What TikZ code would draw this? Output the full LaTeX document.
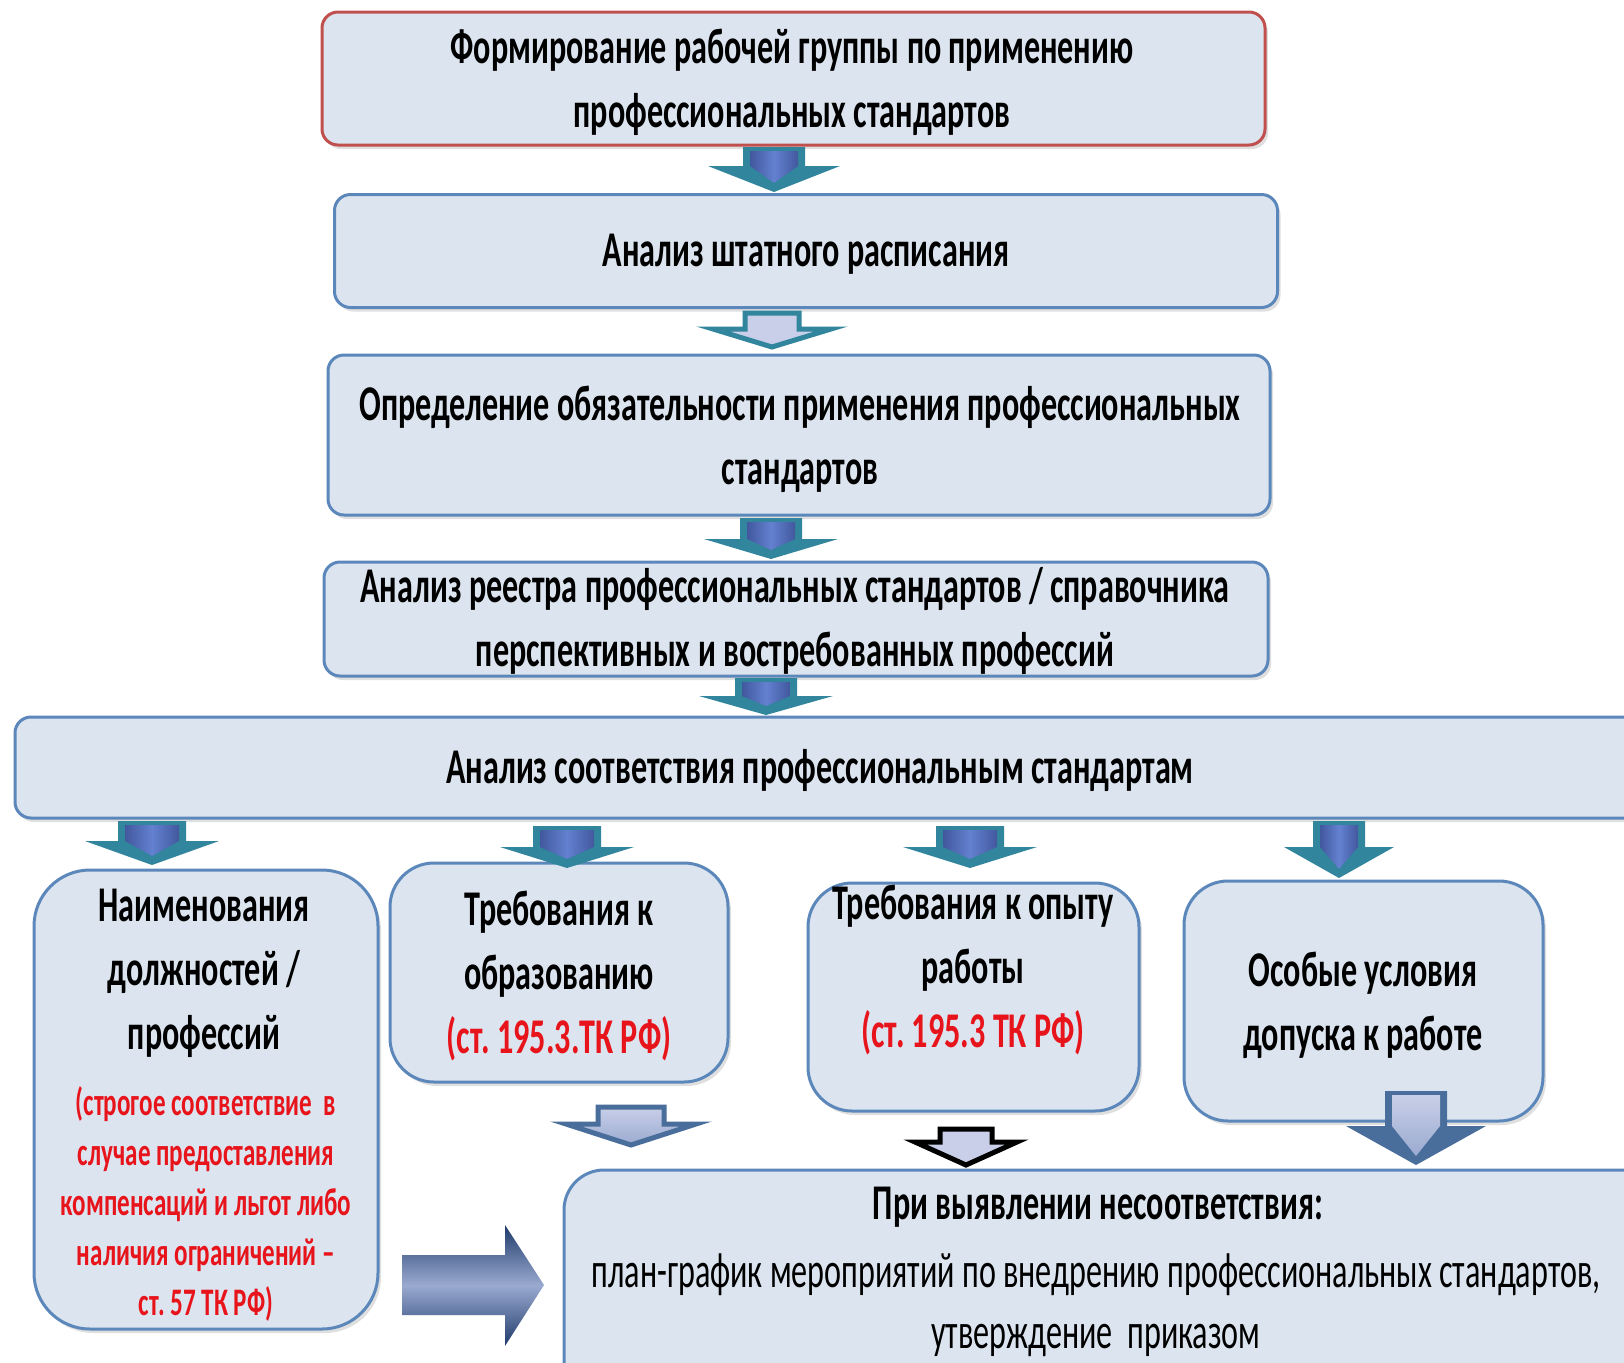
\documentclass[tikz,border=0pt]{standalone}
\usepackage{fontspec}
\setmainfont{Carlito}[FakeStretch=0.643]
\usetikzlibrary{shadows}
\frenchspacing
\definecolor{boxfill}{HTML}{DCE5EF}
\definecolor{boxline}{HTML}{5B87BA}
\definecolor{redline}{HTML}{C0504D}
\definecolor{redtext}{HTML}{E8141B}
\definecolor{arrteal}{HTML}{31859C}
\definecolor{arrblue}{HTML}{6381D0}
\definecolor{arrdark}{HTML}{42589E}
\definecolor{steelarr}{HTML}{4A6E9B}
\definecolor{lightarr}{HTML}{C9CFE8}
\definecolor{navyarr}{HTML}{1F3B6B}
\definecolor{midarr}{HTML}{9AAAD0}
% #1 style, #2 cx, #3 top, #4 base, #5 tip, #6 half shaft, #7 half head
\newcommand\dnarr[7]{\path[#1] (#2-#6,#3) -- (#2+#6,#3) -- (#2+#6,#4) -- (#2+#7,#4) -- (#2,#5) -- (#2-#7,#4) -- (#2-#6,#4) -- cycle;}
% inner coloured body of a two-tone arrow
\newcommand\dninner[6]{\path[#1] (#2-#6+7,#3+4) -- (#2+#6-7,#3+4) -- (#2+#6-7,#4) -- (#2,#5-9) -- (#2-#6+7,#4) -- cycle;}
\newcommand\tealarr[6]{%
  \dnarr{fill=arrteal}{#1}{#2}{#3}{#4}{#5}{#6}%
  \dninner{left color=arrdark,right color=arrdark,middle color=arrblue}{#1}{#2}{#3}{#4}{#5}}
\begin{document}
\begin{tikzpicture}[x=0.5pt,y=-0.5pt,
  box/.style={draw=boxline, line width=1.5pt, fill=boxfill, inner sep=0pt,
    drop shadow={opacity=0.25,shadow xshift=1.5pt,shadow yshift=-2pt}},
  sbox/.style={box, rounded corners=8pt},
  bbox/.style={box, rounded corners=22pt},
  txt/.style={align=center, inner sep=0pt, font=\fontsize{25}{32}\selectfont\bfseries},
  rtxt/.style={align=center, inner sep=0pt, text=redtext, font=\fontsize{19.5}{25}\selectfont\bfseries},
  ntxt/.style={align=center, inner sep=0pt, font=\fontsize{25}{30.5}\selectfont}]
\useasboundingbox (0,0) rectangle (1624,1362);
\clip (0,0) rectangle (1624,1362);
\fill[white] (0,0) rectangle (1624,1362);

% boxes
\node[sbox, draw=redline, minimum width=471.5pt, minimum height=66.5pt] (b1) at (793.5,78.5) {};
\node[sbox, minimum width=471.5pt, minimum height=56.5pt] (b2) at (806,251) {};
\node[sbox, minimum width=471pt, minimum height=80pt] (b3) at (799,435) {};
\node[sbox, minimum width=472pt, minimum height=57pt] (b4) at (796,619) {};
\node[sbox, minimum width=822.5pt, minimum height=50.5pt] (b5) at (837.5,767.5) {};
\node[bbox, rounded corners=28pt, minimum width=172pt, minimum height=229.5pt] (bA) at (206,1099.5) {};
\node[bbox, minimum width=169pt, minimum height=109.5pt] (bB) at (559,972.5) {};
\node[bbox, minimum width=165.5pt, minimum height=114pt] (bC) at (973.5,997) {};
\node[bbox, minimum width=179.5pt, minimum height=120pt] (bD) at (1363.5,1001) {};
\node[bbox, rounded corners=20pt, minimum width=548pt, minimum height=115pt] (bE) at (1112,1285) {};

% texts
\node[txt] (t1) at (792,82) {Формирование рабочей группы по применению\\профессиональных стандартов};
\node[txt] (t2) at (806,254) {Анализ штатного расписания};
\node[txt] (t3) at (800,439) {Определение обязательности применения профессиональных\\стандартов};
\node[txt] (t4) at (795,621) {Анализ реестра профессиональных стандартов / справочника\\перспективных и востребованных профессий};
\node[txt] (t5) at (820,770) {Анализ соответствия профессиональным стандартам};
\node[txt] (tA) at (204,973) {Наименования\\должностей /\\профессий};
\node[rtxt] (tAr) at (206,1204) {(строгое соответствие \ в\\случае предоставления\\компенсаций и льгот либо\\наличия ограничений –\\ст. 57 ТК РФ)};
\node[txt] (tB) at (559,976) {Требования к\\образованию\\\textcolor{redtext}{(ст. 195.3.ТК РФ)}};
\node[txt] (tC) at (973,970) {Требования к опыту\\работы\\\textcolor{redtext}{(ст. 195.3 ТК РФ)}};
\node[txt] (tD) at (1363,1005) {Особые условия\\допуска к работе};
\node[txt] (tE) at (1098,1207) {При выявлении несоответствия:};
\node[ntxt] (tE2) at (1096,1305) {план-график мероприятий по внедрению профессиональных стандартов,\\утверждение \ приказом};

% arrows between the upper boxes
\tealarr{774}{147}{166}{192}{31}{66}
\dnarr{draw=arrteal, line width=2.5pt, fill=lightarr}{772}{313}{329}{347}{27}{59}
\tealarr{771}{518}{539}{559}{31}{67}
\tealarr{766}{678}{696}{715}{31}{67}
% arrows to the four criteria
\tealarr{152}{821}{841}{865}{34}{67}
\tealarr{567}{826}{847}{868}{34}{67}
\tealarr{970}{826}{847}{868}{34}{67}
\tealarr{1339}{821}{847}{878}{26}{55}
% arrows to the result
\dnarr{draw=steelarr, line width=2.5pt, top color=lightarr, bottom color=midarr}{631}{1107}{1124}{1145}{33}{65}
\dnarr{draw=black, line width=2.5pt, fill=lightarr}{966}{1129}{1142}{1165}{26}{51}
\dnarr{fill=steelarr}{1416}{1091}{1126}{1165}{31}{70}
\dninner{top color=lightarr, bottom color=midarr}{1416}{1091}{1126}{1165}{31}
% right arrow
\path[top color=navyarr, bottom color=navyarr, middle color=midarr]
  (402,1255) -- (505,1255) -- (505,1225) -- (544,1285) -- (505,1346) -- (505,1315) -- (402,1315) -- cycle;
\end{tikzpicture}
\end{document}
